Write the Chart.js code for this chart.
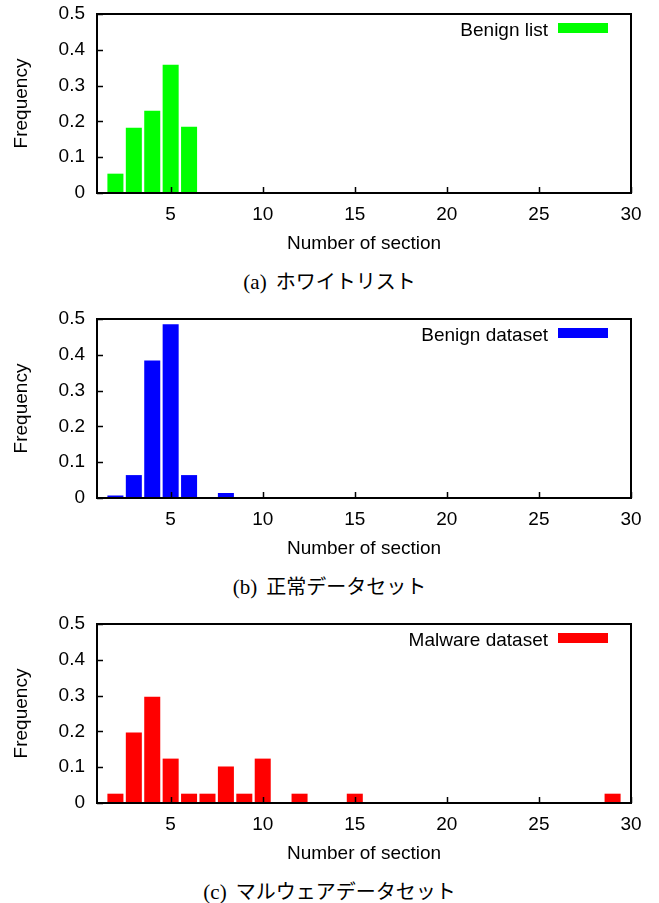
<!DOCTYPE html>
<html>
<head>
<meta charset="utf-8">
<script src="https://cdn.jsdelivr.net/npm/chart.js@4.4.0/dist/chart.umd.min.js"></script>
<style>
  html, body { margin: 0; padding: 0; background: #fff; }
  body { width: 659px; height: 903px; position: relative; overflow: hidden; }
  .panel { position: absolute; left: 0; width: 659px; height: 305px; }
  .panel canvas { position: absolute; left: 0; top: 0; }
  .caption {
    position: absolute; left: 0; width: 659px; top: 268px; height: 26px; line-height: 26px;
    text-align: center; font-size: 20px; color: #000; white-space: nowrap;
  }
  .caption .tag { font-family: "Liberation Serif", serif; font-size: 21px; margin-right: 4px; }
  .caption .jp { font-family: "Noto Sans CJK JP", sans-serif; }
</style>
</head>
<body>
<div class="panel" style="top:0px"><canvas id="chartA" width="659" height="262"></canvas>
  <div class="caption"><span class="tag">(a)</span> <span class="jp">ホワイトリスト</span></div></div>
<div class="panel" style="top:305px"><canvas id="chartB" width="659" height="262"></canvas>
  <div class="caption"><span class="tag">(b)</span> <span class="jp">正常データセット</span></div></div>
<div class="panel" style="top:610px"><canvas id="chartC" width="659" height="262"></canvas>
  <div class="caption"><span class="tag">(c)</span> <span class="jp">マルウェアデータセット</span></div></div>
<script>
// values
const benignListX = [2, 3, 4, 5, 6];
const benignListY = [0.054, 0.182, 0.230, 0.358, 0.185];

const benignDataX = [2, 3, 4, 5, 6, 8];
const benignDataY = [0.007, 0.064, 0.384, 0.485, 0.064, 0.014];

const malwareX = [2, 3, 4, 5, 6, 7, 8, 9, 10, 12, 15, 29];
const malwareY = [0.026, 0.197, 0.297, 0.124, 0.026, 0.026, 0.102, 0.026, 0.124, 0.026, 0.026, 0.026];

const xTicks = [5, 10, 15, 20, 25, 30];
const yTicks = [0, 0.1, 0.2, 0.3, 0.4, 0.5];
const yTickLabels = ['0', '0.1', '0.2', '0.3', '0.4', '0.5'];

const FONT = 'Liberation Sans, Arial, sans-serif';
const FONT_SIZE = 19;

// frame, inward ticks and the gnuplot style legend (text left of the sample)
const gnuplotLook = {
  id: 'gnuplotLook',
  afterDatasetsDraw(chart) {
    const { ctx, chartArea: area } = chart;
    const xs = chart.scales.x;
    const ys = chart.scales.y;
    ctx.save();
    ctx.strokeStyle = '#000';
    ctx.lineWidth = 1.5;
    ctx.beginPath();
    ys.ticks.forEach((t) => {
      const py = Math.round(ys.getPixelForValue(t.value)) + 0.5;
      ctx.moveTo(area.left, py);
      ctx.lineTo(area.left + 6, py);
    });
    xs.ticks.forEach((t) => {
      const px = Math.round(xs.getPixelForValue(t.value)) + 0.5;
      ctx.moveTo(px, area.bottom);
      ctx.lineTo(px, area.bottom - 6);
    });
    ctx.stroke();

    ctx.lineWidth = 2;
    ctx.strokeRect(area.left, area.top, area.right - area.left, area.bottom - area.top);

    const ds = chart.data.datasets[0];
    ctx.fillStyle = '#000';
    ctx.font = FONT_SIZE + 'px ' + FONT;
    ctx.textAlign = 'right';
    ctx.textBaseline = 'middle';
    ctx.fillText(ds.label, area.right - 83, area.top + 17);
    ctx.fillStyle = ds.backgroundColor;
    ctx.fillRect(area.right - 73, area.top + 9, 50, 10);
    ctx.restore();
  },
};

// invisible tick marks only serve to push labels away from the axis
const hiddenGrid = { display: true, drawOnChartArea: false, drawTicks: true, color: 'rgba(0,0,0,0)' };

function makeChart(canvasId, label, color, xs, ys) {
  const points = xs.map((x, i) => ({ x, y: ys[i] }));
  return new Chart(document.getElementById(canvasId), {
    type: 'bar',
    data: {
      datasets: [{
        label,
        data: points,
        backgroundColor: color,
        borderWidth: 0,
        categoryPercentage: 1,
        barPercentage: 0.87,
      }],
    },
    options: {
      responsive: false,
      animation: false,
      layout: { padding: { top: 14, right: 28, bottom: 0, left: 0 } },
      plugins: { legend: { display: false }, tooltip: { enabled: false } },
      scales: {
        x: {
          type: 'linear',
          offset: false,
          min: 1,
          max: 30,
          afterBuildTicks: (scale) => { scale.ticks = xTicks.map((v) => ({ value: v })); },
          afterFit: (scale) => { scale.height = 69; },
          grid: { ...hiddenGrid, tickLength: 10 },
          border: { display: false },
          ticks: { color: '#000', font: { family: FONT, size: FONT_SIZE }, padding: 0, maxRotation: 0, autoSkip: false },
          title: { display: true, text: 'Number of section', color: '#000', font: { family: FONT, size: FONT_SIZE }, padding: { top: 0, bottom: 7 } },
        },
        y: {
          min: 0,
          max: 0.5,
          afterBuildTicks: (scale) => { scale.ticks = yTicks.map((v) => ({ value: v })); },
          afterFit: (scale) => { scale.width = 97; },
          grid: { ...hiddenGrid, tickLength: 12 },
          border: { display: false },
          ticks: {
            color: '#000',
            font: { family: FONT, size: FONT_SIZE },
            padding: 0,
            callback: (value) => yTickLabels[yTicks.indexOf(value)] ?? '',
          },
          title: { display: true, text: 'Frequency', color: '#000', font: { family: FONT, size: FONT_SIZE }, padding: { top: 10, bottom: 0 } },
        },
      },
    },
    plugins: [gnuplotLook],
  });
}

makeChart('chartA', 'Benign list', '#00ff00', benignListX, benignListY);
makeChart('chartB', 'Benign dataset', '#0000ff', benignDataX, benignDataY);
makeChart('chartC', 'Malware dataset', '#ff0000', malwareX, malwareY);
</script>
</body>
</html>
